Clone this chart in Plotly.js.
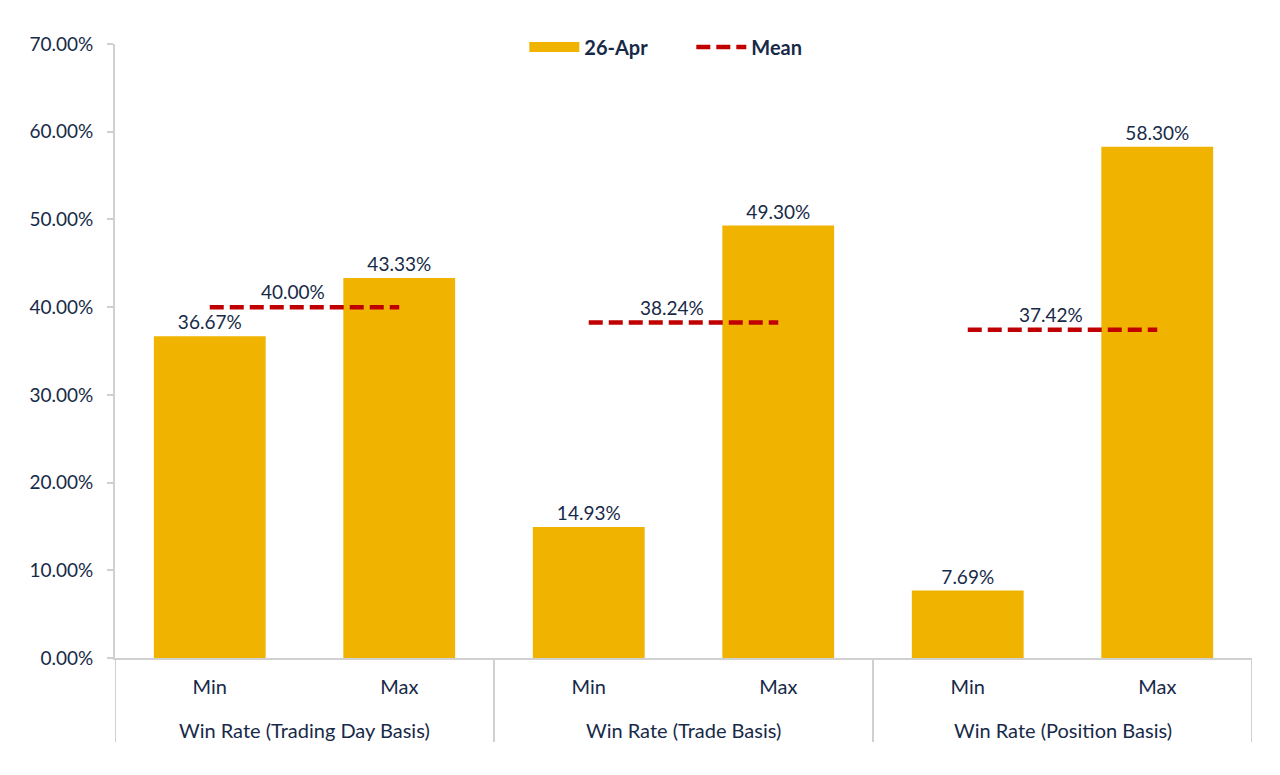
<!DOCTYPE html>
<html>
<head>
<meta charset="utf-8">
<script src="https://cdn.plot.ly/plotly-3.0.1.min.js"></script>
<style>
  html, body { margin: 0; padding: 0; background: #ffffff; }
  #chart { width: 1280px; height: 775px; }
</style>
</head>
<body>
<div id="chart"></div>
<script>
const CHART = document.getElementById('chart');

const NAVY = '#172a48';
const GOLD = '#efb300';
const RED = '#c00000';
const GREY = '#d0d0d0';
const FONT = 'Lato, "Open Sans", sans-serif';

// data
const groups = ['Win Rate (Trading Day Basis)', 'Win Rate (Trade Basis)', 'Win Rate (Position Basis)'];
const levels = ['Min', 'Max'];
const apr26 = [0.3667, 0.4333, 0.1493, 0.4930, 0.0769, 0.5830];
const means = [0.4000, 0.3824, 0.3742];

const pct = (v) => (v * 100).toFixed(2) + '%';

// one slot per bar, labelled with its level; groups are laid out over pairs of slots
const slots = apr26.map((_, i) => i);
const slotText = apr26.map((_, i) => levels[i % levels.length]);
const n = levels.length;

// mean lines run from the Min bar to the Max bar of each group
const meanX = [];
const meanY = [];
means.forEach((m, i) => {
    meanX.push(i * n, i * n + n - 1, null);
    meanY.push(m, m, null);
});
const groupMid = groups.map((_, i) => i * n + (n - 1) / 2);

const traces = [
    {
        type: 'bar',
        name: '26-Apr',
        showlegend: false,
        x: slots,
        y: apr26,
        marker: { color: GOLD },
        width: 0.59,
        text: apr26.map(pct),
        textposition: 'outside',
        textfont: { family: FONT, size: 19, color: NAVY },
        cliponaxis: false,
        hoverinfo: 'skip'
    },
    {
        // legend swatch for the bars (wide block like the original)
        type: 'scatter',
        mode: 'lines',
        name: '26-Apr',
        x: [null],
        y: [null],
        line: { color: GOLD, width: 12 },
        hoverinfo: 'skip'
    },
    {
        type: 'scatter',
        mode: 'lines',
        name: 'Mean',
        x: meanX,
        y: meanY,
        line: { color: RED, width: 4.5, dash: '14px,6px' },
        hoverinfo: 'skip'
    }
];

const annotations = [];
means.forEach((m, i) => {
    annotations.push({
        x: groupMid[i], y: m, xref: 'x', yref: 'y',
        text: pct(m), showarrow: false,
        xanchor: 'center', yanchor: 'bottom', xshift: -12, yshift: 2,
        font: { family: FONT, size: 19, color: NAVY }
    });
});
groups.forEach((g, i) => {
    annotations.push({
        x: groupMid[i], y: 0, xref: 'x', yref: 'paper',
        text: g, showarrow: false,
        xanchor: 'center', yanchor: 'middle', yshift: -72,
        font: { family: FONT, size: 20, color: NAVY }
    });
});

// vertical dividers between the groups under the axis
const shapes = [];
for (let i = 0; i <= groups.length; i++) {
    shapes.push({
        type: 'line', xref: 'x', yref: 'paper',
        x0: i * n - 0.5, x1: i * n - 0.5, y0: 0, y1: -0.137,
        line: { color: GREY, width: 2 }
    });
}

const layout = {
    width: 1280,
    height: 775,
    margin: { l: 115, r: 28, t: 44, b: 117 },
    paper_bgcolor: '#ffffff',
    plot_bgcolor: '#ffffff',
    font: { family: FONT, size: 19, color: NAVY },
    showlegend: true,
    legend: {
        orientation: 'h',
        x: 0.36,
        xanchor: 'left',
        y: 0.995,
        yanchor: 'middle',
        itemwidth: 50,
        entrywidth: 102,
        font: { family: FONT, size: 20, color: NAVY, weight: 'bold' },
        traceorder: 'normal'
    },
    xaxis: {
        range: [-0.5, apr26.length - 0.5],
        tickvals: slots,
        ticktext: slotText,
        showline: true,
        linecolor: GREY,
        linewidth: 2,
        showgrid: false,
        zeroline: false,
        ticks: 'outside',
        ticklen: 10,
        tickcolor: 'rgba(0,0,0,0)',
        tickfont: { family: FONT, size: 20, color: NAVY }
    },
    yaxis: {
        range: [0, 0.7],
        dtick: 0.1,
        tickformat: '.2%',
        showgrid: false,
        zeroline: false,
        showline: true,
        linecolor: GREY,
        linewidth: 2,
        ticks: 'outside',
        ticklen: 6,
        tickcolor: GREY,
        tickwidth: 2,
        tickfont: { family: FONT, size: 19, color: NAVY },
        ticklabelstandoff: 10
    },
    annotations: annotations,
    shapes: shapes
};

Plotly.newPlot(CHART, traces, layout, { displayModeBar: false, staticPlot: true });
</script>
</body>
</html>
